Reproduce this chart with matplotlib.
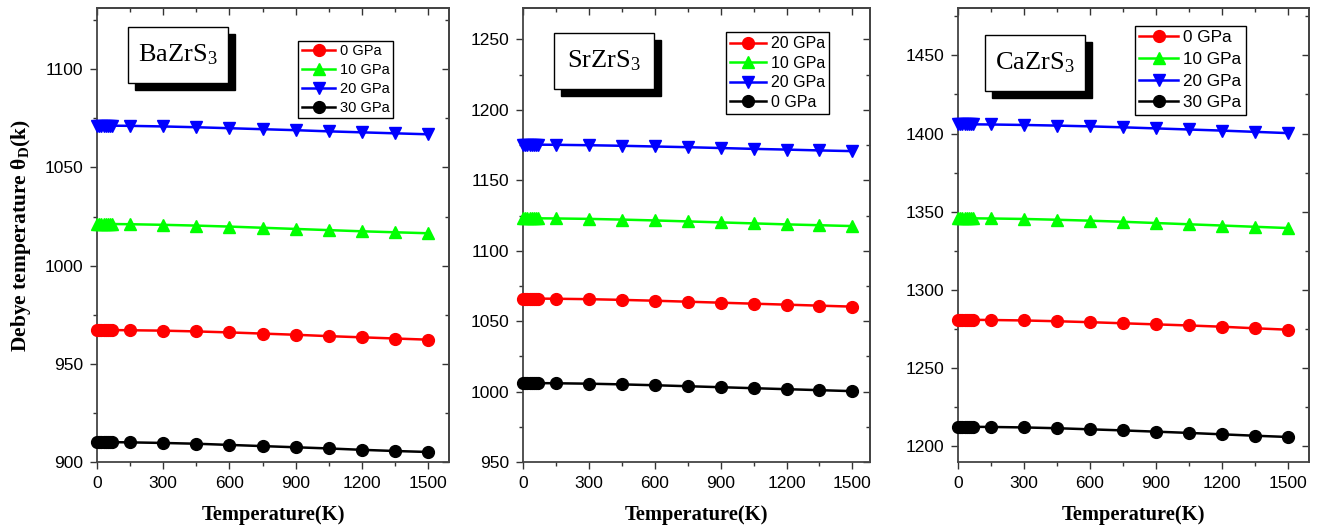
import matplotlib
matplotlib.use("Agg")
import matplotlib.pyplot as plt
from matplotlib.patches import Rectangle
from matplotlib.ticker import MultipleLocator

plt.rcParams['font.family'] = ['Liberation Sans', 'DejaVu Sans']
plt.rcParams['mathtext.fontset'] = 'custom'
plt.rcParams['mathtext.rm'] = 'Liberation Serif'
plt.rcParams['mathtext.it'] = 'Liberation Serif'
plt.rcParams['mathtext.bf'] = 'Liberation Serif:bold'

# temperature points (K)
temp = [0, 10, 20, 30, 40, 50, 60, 70, 150, 300, 450, 600, 750, 900, 1050, 1200, 1350, 1500]

# BaZrS3
ba_red = [967.3, 967.3, 967.3, 967.3, 967.3, 967.3, 967.3, 967.2, 967.1, 966.9, 966.5, 966.0, 965.4, 964.8, 964.1, 963.5, 962.9, 962.3]
ba_green = [1021.3, 1021.3, 1021.3, 1021.3, 1021.3, 1021.3, 1021.3, 1021.2, 1021.1, 1020.8, 1020.4, 1019.9, 1019.3, 1018.7, 1018.1, 1017.5, 1017.0, 1016.5]
ba_blue = [1071.3, 1071.3, 1071.3, 1071.3, 1071.3, 1071.3, 1071.3, 1071.3, 1071.2, 1070.9, 1070.5, 1070.0, 1069.5, 1069.0, 1068.4, 1067.9, 1067.4, 1066.9]
ba_black = [910.2, 910.2, 910.2, 910.2, 910.2, 910.2, 910.2, 910.1, 910.0, 909.7, 909.3, 908.7, 908.1, 907.5, 906.9, 906.2, 905.6, 905.1]

# SrZrS3
sr_red = [1066.0, 1066.0, 1066.0, 1066.0, 1066.0, 1066.0, 1066.0, 1066.0, 1065.9, 1065.6, 1065.1, 1064.5, 1063.8, 1063.1, 1062.4, 1061.7, 1061.0, 1060.3]
sr_green = [1123.0, 1123.0, 1123.0, 1123.0, 1123.0, 1123.0, 1123.0, 1123.0, 1122.9, 1122.6, 1122.1, 1121.5, 1120.8, 1120.1, 1119.4, 1118.7, 1118.1, 1117.5]
sr_blue = [1175.3, 1175.3, 1175.3, 1175.3, 1175.3, 1175.3, 1175.3, 1175.3, 1175.2, 1174.9, 1174.5, 1174.0, 1173.5, 1172.9, 1172.3, 1171.8, 1171.2, 1170.7]
sr_black = [1006.0, 1006.0, 1006.0, 1006.0, 1006.0, 1006.0, 1006.0, 1006.0, 1005.9, 1005.6, 1005.1, 1004.5, 1003.8, 1003.1, 1002.4, 1001.7, 1001.0, 1000.3]

# CaZrS3
ca_red = [1280.9, 1280.9, 1280.9, 1280.9, 1280.9, 1280.9, 1280.9, 1280.9, 1280.8, 1280.5, 1280.0, 1279.4, 1278.7, 1278.0, 1277.3, 1276.5, 1275.5, 1274.6]
ca_green = [1345.8, 1345.8, 1345.8, 1345.8, 1345.8, 1345.8, 1345.8, 1345.8, 1345.7, 1345.4, 1344.9, 1344.3, 1343.6, 1342.8, 1342.0, 1341.2, 1340.4, 1339.6]
ca_blue = [1405.9, 1405.9, 1405.9, 1405.9, 1405.9, 1405.9, 1405.9, 1405.9, 1405.8, 1405.5, 1405.1, 1404.6, 1404.0, 1403.3, 1402.6, 1401.9, 1401.1, 1400.3]
ca_black = [1212.5, 1212.5, 1212.5, 1212.5, 1212.5, 1212.5, 1212.5, 1212.5, 1212.4, 1212.1, 1211.6, 1210.9, 1210.2, 1209.4, 1208.6, 1207.7, 1206.8, 1206.0]

panels = [
    dict(name='BaZrS$_3$', series=[ba_red, ba_green, ba_blue, ba_black],
         labels=['0 GPa', '10 GPa', '20 GPa', '30 GPa'],
         ylim=(900, 1131), xmax=1595, pos=[0.0735, 0.125, 0.2667, 0.859],
         leg=(0.841, 0.929), lfs=10.5, lsp=0.33, box=(0.229, 0.897)),
    dict(name='SrZrS$_3$', series=[sr_red, sr_green, sr_blue, sr_black],
         labels=['20 GPa', '10 GPa', '20 GPa', '0 GPa'],
         ylim=(950, 1272), xmax=1580, pos=[0.3962, 0.125, 0.2629, 0.859],
         leg=(0.883, 0.947), lfs=11.5, lsp=0.28, box=(0.233, 0.884)),
    dict(name='CaZrS$_3$', series=[ca_red, ca_green, ca_blue, ca_black],
         labels=['0 GPa', '10 GPa', '20 GPa', '30 GPa'],
         ylim=(1190, 1480), xmax=1597, pos=[0.7258, 0.125, 0.2659, 0.859],
         leg=(0.820, 0.962), lfs=12.3, lsp=0.4, box=(0.218, 0.880)),
]

colors = ['#ff0000', '#00ff00', '#0000ff', '#000000']
markers = ['o', '^', 'v', 'o']

fig = plt.figure(figsize=(13.2, 5.28), dpi=100)

for i, p in enumerate(panels):
    ax = fig.add_axes(p['pos'])
    for vals, c, m, lab in zip(p['series'], colors, markers, p['labels']):
        ax.plot(temp, vals, color=c, marker=m, markersize=8.5, linewidth=1.8,
                label=lab, clip_on=False, zorder=3)
    ax.set_xlim(0, p['xmax'])
    ax.set_ylim(*p['ylim'])
    ax.xaxis.set_major_locator(MultipleLocator(300))
    ax.xaxis.set_minor_locator(MultipleLocator(150))
    ax.yaxis.set_major_locator(MultipleLocator(50))
    ax.yaxis.set_minor_locator(MultipleLocator(25))
    ax.tick_params(which='both', direction='out', labelsize=12.5, colors='#333333',
                   labelcolor='black', pad=5)
    ax.tick_params(which='major', length=5, width=1)
    ax.tick_params(which='minor', length=3, width=1)
    for s in ax.spines.values():
        s.set_linewidth(1.3)
        s.set_color('#444444')

    # inward ticks on top and right
    top = ax.secondary_xaxis('top')
    top.xaxis.set_major_locator(MultipleLocator(300))
    top.xaxis.set_minor_locator(MultipleLocator(150))
    top.tick_params(which='both', direction='in', labeltop=False, colors='#333333')
    top.tick_params(which='major', length=5, width=1)
    top.tick_params(which='minor', length=3, width=1)
    right = ax.secondary_yaxis('right')
    right.yaxis.set_major_locator(MultipleLocator(50))
    right.yaxis.set_minor_locator(MultipleLocator(25))
    right.tick_params(which='both', direction='in', labelright=False, colors='#333333')
    right.tick_params(which='major', length=5, width=1)
    right.tick_params(which='minor', length=3, width=1)
    for sec in (top, right):
        for s in sec.spines.values():
            s.set_linewidth(1.3)
            s.set_color('#444444')

    ax.set_xlabel('Temperature(K)', family='Liberation Serif', fontweight='bold',
                  fontsize=14.8, labelpad=10)
    if i == 0:
        ax.set_ylabel('Debye temperature θ$_\\mathbf{D}$(k)', family='Liberation Serif',
                      fontweight='bold', fontsize=15.5, labelpad=8)

    leg = ax.legend(loc='upper right', bbox_to_anchor=p['leg'], borderaxespad=0,
                    fontsize=p['lfs'], fancybox=False, framealpha=1, edgecolor='black',
                    handlelength=2.3, handletextpad=0.3, labelspacing=p['lsp'],
                    borderpad=0.25, numpoints=1)
    leg.get_frame().set_linewidth(1.0)

    # name box with drop shadow
    bw, bh = 100 / (p['pos'][2] * 1320), 56 / (p['pos'][3] * 528)
    dx, dy = 7 / (p['pos'][2] * 1320), 7 / (p['pos'][3] * 528)
    cx, cy = p['box']
    ax.add_patch(Rectangle((cx - bw / 2 + dx, cy - bh / 2 - dy), bw, bh,
                           transform=ax.transAxes, facecolor='black',
                           edgecolor='black', zorder=5))
    ax.add_patch(Rectangle((cx - bw / 2, cy - bh / 2), bw, bh,
                           transform=ax.transAxes, facecolor='white',
                           edgecolor='black', linewidth=1.0, zorder=6))
    ax.text(cx, cy, p['name'], transform=ax.transAxes, ha='center', va='center',
            family='Liberation Serif', fontsize=19, zorder=7)

fig.savefig('out.png', dpi=100)
